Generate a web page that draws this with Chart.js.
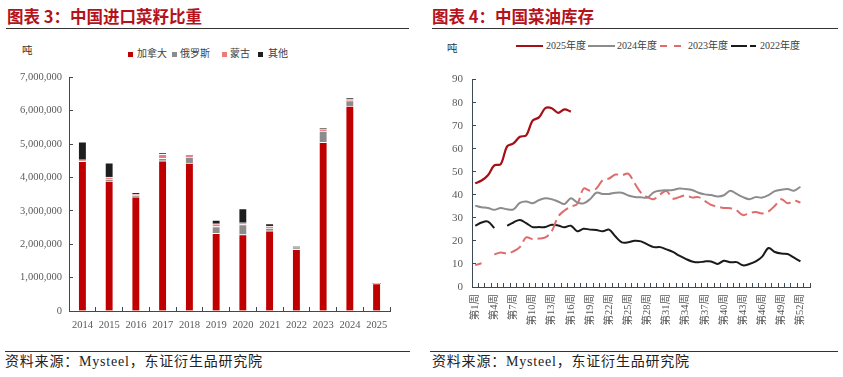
<!DOCTYPE html>
<html>
<head>
<meta charset="utf-8">
<script src="https://cdn.jsdelivr.net/npm/chart.js@4.4.1/dist/chart.umd.min.js"></script>
<style>
  body { margin: 0; background: #fff; width: 843px; height: 377px; position: relative; overflow: hidden;
         font-family: 'Liberation Serif', 'Noto Sans CJK SC', serif; }
  .abs { position: absolute; white-space: nowrap; }
  .title { font-family: 'Noto Sans CJK SC', sans-serif; font-weight: bold; font-size: 16.5px; color: #b5121b; line-height: 20px; }
  .rule { position: absolute; height: 1px; background: #333; }
  .foot { font-size: 14px; letter-spacing: 0.8px; color: #222; line-height: 16px; }
  .unit { font-size: 10.5px; color: #333; line-height: 12px; font-family: 'Noto Sans CJK SC', sans-serif; }
  .leg { font-size: 10px; color: #404040; line-height: 12px; font-family: 'Liberation Serif', 'Noto Sans CJK SC', serif; }
  .sq { position: absolute; width: 5px; height: 5px; }
</style>
</head>
<body>
<div class="abs title" style="left:7px;top:6px;">图表 3：中国进口菜籽比重</div>
<div class="abs title" style="left:432px;top:6px;">图表 4：中国菜油库存</div>
<div class="rule" style="left:6px;top:28px;width:403px;"></div>
<div class="rule" style="left:432px;top:28px;width:406px;"></div>

<div class="abs unit" style="left:22px;top:44px;">吨</div>
<div class="abs unit" style="left:447px;top:42px;">吨</div>

<!-- left legend -->
<div class="sq" style="left:128px;top:52px;background:#c00000;"></div>
<div class="abs leg" style="left:137px;top:48px;">加拿大</div>
<div class="sq" style="left:172px;top:52px;background:#8c8c8c;"></div>
<div class="abs leg" style="left:180px;top:48px;">俄罗斯</div>
<div class="sq" style="left:222px;top:52px;background:#ee7b7b;"></div>
<div class="abs leg" style="left:230px;top:48px;">蒙古</div>
<div class="sq" style="left:258px;top:52px;background:#1e1e1e;"></div>
<div class="abs leg" style="left:268px;top:48px;">其他</div>

<!-- right legend -->
<svg class="abs" style="left:515px;top:40px;" width="290" height="12">
  <line x1="1" y1="6" x2="28" y2="6" stroke="#a50f15" stroke-width="2"/>
  <line x1="73" y1="6" x2="100" y2="6" stroke="#8c8c8c" stroke-width="2"/>
  <line x1="145" y1="6" x2="152" y2="6" stroke="#e06b6b" stroke-width="2"/>
  <line x1="159" y1="6" x2="166" y2="6" stroke="#e06b6b" stroke-width="2"/>
  <line x1="216" y1="6" x2="232" y2="6" stroke="#1a1a1a" stroke-width="2"/>
  <line x1="235" y1="6" x2="241" y2="6" stroke="#1a1a1a" stroke-width="2"/>
</svg>
<div class="abs leg" style="left:546px;top:40px;">2025年度</div>
<div class="abs leg" style="left:617px;top:40px;">2024年度</div>
<div class="abs leg" style="left:688px;top:40px;">2023年度</div>
<div class="abs leg" style="left:760px;top:40px;">2022年度</div>

<canvas id="importChart" class="abs" style="left:0;top:60px;" width="415" height="290"></canvas>
<canvas id="stockChart" class="abs" style="left:425px;top:60px;" width="418" height="290"></canvas>

<div class="rule" style="left:5px;top:351px;width:405px;"></div>
<div class="rule" style="left:430px;top:351px;width:408px;"></div>
<div class="abs foot" style="left:5px;top:354px;">资料来源：Mysteel，东证衍生品研究院</div>
<div class="abs foot" style="left:432px;top:354px;">资料来源：Mysteel，东证衍生品研究院</div>

<script>
// 图表3 data (吨)
const years = ['2014', '2015', '2016', '2017', '2018', '2019', '2020', '2021', '2022', '2023', '2024', '2025'];
const canada   = [4480000, 3890000, 3420000, 4500000, 4430000, 2330000, 2290000, 2400000, 1850000, 5050000, 6140000, 820000];
const russia   = [20000, 60000, 40000, 70000, 180000, 200000, 300000, 80000, 40000, 340000, 160000, 0];
const mongolia = [30000, 60000, 40000, 120000, 80000, 80000, 50000, 60000, 30000, 70000, 50000, 0];
const others   = [540000, 430000, 50000, 50000, 10000, 110000, 430000, 80000, 10000, 20000, 20000, 0];

// 图表4 data (万吨)
const weeks = ['第1周', '第2周', '第3周', '第4周', '第5周', '第6周', '第7周', '第8周', '第9周', '第10周',
  '第11周', '第12周', '第13周', '第14周', '第15周', '第16周', '第17周', '第18周', '第19周', '第20周',
  '第21周', '第22周', '第23周', '第24周', '第25周', '第26周', '第27周', '第28周', '第29周', '第30周',
  '第31周', '第32周', '第33周', '第34周', '第35周', '第36周', '第37周', '第38周', '第39周', '第40周',
  '第41周', '第42周', '第43周', '第44周', '第45周', '第46周', '第47周', '第48周', '第49周', '第50周',
  '第51周', '第52周', '第53周'];
const stock2025 = [45, 46.2, 48.5, 52.8, 53.3, 61, 62.3, 65.2, 65.8, 72.2, 73.6, 77.6, 77.6, 75.6, 77.1, 76.1];
const stock2024 = [35.3, 34.6, 34.3, 33.5, 34.3, 33.7, 33.7, 36.5, 37.1, 36.3,
  37.7, 38.5, 38.1, 37.1, 36.0, 38.5, 36.7, 36.3, 38.1, 40.9,
  40.4, 40.4, 40.9, 40.9, 39.7, 39.1, 38.9, 38.8, 41.1, 41.8,
  42.0, 42.1, 42.7, 42.5, 42.1, 40.9, 40.2, 39.9, 39.3, 39.8,
  41.8, 40.4, 39.0, 38.1, 39.0, 38.8, 39.9, 41.6, 42.2, 42.5,
  41.8, 43.5];
const stock2023 = [9.5, 10.3, null, 14.1, 15.0, 14.5, 15.5, 17.3, 21.5, 20.8,
  21.0, 21.5, 24.2, 30.5, 33.2, 34.9, 36.0, 42.7, 41.8, 42.7,
  46.4, 47.1, 48.8, 48.5, 49.2, 45.0, 40.9, 39.0, 38.1, 40.2,
  41.6, 38.4, 39.0, 39.8, 38.8, 39.0, 37.4, 35.6, 34.9, 34.3,
  34.2, 33.2, 31.2, 32.1, 32.5, 31.9, 32.8, 35.3, 38.1, 36.3,
  37.4, 36.7];
const stock2022 = [26.6, 28.0, 28.4, 25.6, null, 26.6, 28.0, 29.1, 27.7, 26.0,
  26.0, 26.0, 27.0, 26.7, 25.9, 26.6, 24.2, 25.3, 24.9, 24.7,
  24.2, 24.9, 21.9, 19.4, 19.4, 20.1, 19.8, 18.5, 17.3, 17.3,
  16.3, 15.2, 13.6, 12.2, 11.1, 10.7, 11.1, 11.1, 10.0, 11.4,
  10.7, 10.8, 9.4, 10.0, 11.1, 13.2, 16.9, 15.2, 14.5, 14.3,
  12.7, 11.1];

const axisColor = '#3b4a54';
const tickFont = { family: "'Liberation Serif', 'Noto Sans CJK SC', serif", size: 10.5 };

function barSet(label, data, color) {
  return {
    label: label,
    data: data,
    backgroundColor: color,
    borderColor: '#ffffff',
    borderWidth: { top: 1, left: 0, right: 0, bottom: 0 },
    borderSkipped: false,
    barThickness: 7
  };
}

new Chart(document.getElementById('importChart'), {
  type: 'bar',
  data: {
    labels: years,
    datasets: [
      barSet('加拿大', canada, '#c00000'),
      barSet('俄罗斯', russia, '#8c8c8c'),
      barSet('蒙古', mongolia, '#ee7b7b'),
      barSet('其他', others, '#1e1e1e')
    ]
  },
  options: {
    responsive: false,
    animation: false,
    layout: { padding: { top: 12, right: 25, left: 0, bottom: 0 } },
    plugins: { legend: { display: false }, tooltip: { enabled: false } },
    scales: {
      x: {
        stacked: true,
        grid: { drawOnChartArea: false, tickLength: -4, color: axisColor, offset: true },
        border: { color: axisColor },
        ticks: { font: tickFont, color: '#595959', padding: 12, maxRotation: 0 },
        afterFit: function (s) { s.height = 39; }
      },
      y: {
        stacked: true,
        min: 0,
        max: 7000000,
        grid: { drawOnChartArea: false, tickLength: -4, color: axisColor },
        border: { color: axisColor },
        ticks: {
          stepSize: 1000000,
          font: tickFont,
          color: '#595959',
          padding: 11,
          callback: v => v.toLocaleString('en-US')
        },
        afterFit: function (s) { s.width = 69; }
      }
    }
  }
});

function lineSet(label, data, color, width, dash) {
  return {
    label: label,
    data: data,
    borderColor: color,
    backgroundColor: color,
    borderWidth: width,
    borderDash: dash || [],
    pointRadius: 0,
    tension: 0.35,
    spanGaps: false,
    fill: false
  };
}

new Chart(document.getElementById('stockChart'), {
  type: 'line',
  data: {
    labels: weeks,
    datasets: [
      lineSet('2025年度', stock2025, '#a50f15', 2.2),
      lineSet('2024年度', stock2024, '#8c8c8c', 2),
      lineSet('2023年度', stock2023, '#e06b6b', 2, [12, 5]),
      lineSet('2022年度', stock2022, '#1a1a1a', 2)
    ]
  },
  options: {
    responsive: false,
    animation: false,
    layout: { padding: { top: 10, right: 33, left: 0, bottom: 0 } },
    plugins: { legend: { display: false }, tooltip: { enabled: false } },
    scales: {
      x: {
        offset: true,
        grid: { drawOnChartArea: false, tickLength: -4, color: axisColor, offset: true },
        border: { color: axisColor },
        ticks: {
          autoSkip: false,
          minRotation: 90,
          maxRotation: 90,
          font: { family: "'Liberation Serif', 'Noto Sans CJK SC', serif", size: 10.5 },
          color: '#595959',
          padding: 11,
          callback: function (v, i) { return i % 3 === 0 ? this.getLabelForValue(v) : ''; }
        },
        afterFit: function (s) { s.height = 63; }
      },
      y: {
        min: 0,
        max: 90,
        grid: { drawOnChartArea: false, tickLength: -4, color: axisColor },
        border: { color: axisColor },
        ticks: { stepSize: 10, font: { family: "'Liberation Serif', serif", size: 11 }, color: '#595959', padding: 13 },
        afterFit: function (s) { s.width = 47; }
      }
    }
  }
});
</script>
</body>
</html>
